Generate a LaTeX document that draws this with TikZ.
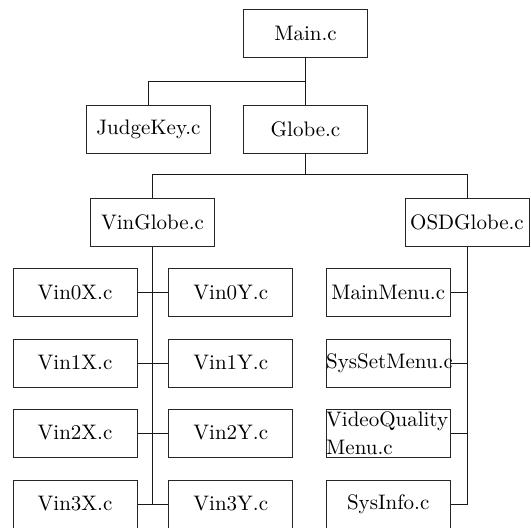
\documentclass[tikz,border=0pt]{standalone}
\usepackage{amsmath}
\usepackage{tikz}
\usetikzlibrary{calc,positioning,arrows}
\tikzstyle{srcfile} = [rectangle,
    draw=black!85, line width=0.5pt,
    text width=62pt,
    minimum height=24pt,
    inner xsep=0pt, inner ysep=0pt,
    text centered,
    font=\fontsize{10.5}{14}\selectfont]
\tikzstyle{link} = [draw=black!90, line width=0.5pt]

\begin{document}
\begin{tikzpicture}[x=0.5pt, y=-0.5pt,
    menufile/.style={srcfile, align=left}
    ]
  \useasboundingbox (0,0) rectangle (531,527);
  \clip (0,0) rectangle (531,527);
  \node [srcfile] (Main) at (305.5,33) {Main.c};
  \node [srcfile, below=23.5pt of Main] (Globe) {Globe.c};
  \node [srcfile, left=16pt of Globe] (JudgeKey) {JudgeKey.c};
  \node [srcfile] (VinGlobe) at (152.5,222) {VinGlobe.c};
  \node [srcfile] (OSDGlobe) at (467,222) {OSDGlobe.c};
  % Vin files
  \foreach \i/\y in {0/292.5,1/363,2/433,3/504} {
    \node [srcfile] (Vin\i X) at (75,\y) {Vin\i X.c};
    \node [srcfile] (Vin\i Y) at (230.8,\y) {Vin\i Y.c};
  }
  % OSD files
  \node [srcfile] (MainMenu) at (388.2,292.5) {MainMenu.c};
  \node [srcfile] (SysSet) at (388.2,363) {SysSetMenu.c};
  \node [menufile] (VideoQ) at (388.2,433) {VideoQuality\\Menu.c};
  \node [srcfile] (SysInfo) at (388.2,504) {SysInfo.c};

  \coordinate (MainSplit) at ($(Main.south)!0.5!(Globe.north)$);
  \coordinate (GlobeSplit) at (Globe.south |- 0,174.7);
  \path [link] (Main.south) -- (Globe.north);
  \path [link] (MainSplit) -| (JudgeKey.north);
  \path [link] (Globe.south) -- (GlobeSplit);
  \path [link] (VinGlobe.north) |- (GlobeSplit) -| (OSDGlobe.north);
  \path [link] (VinGlobe.south) -- (VinGlobe.south |- Vin3X.east);
  \foreach \i in {0,1,2,3}
    \path [link] (Vin\i X.east) -- (Vin\i Y.west);
  \path [link] (OSDGlobe.south) |- (SysInfo.east);
  \foreach \n in {MainMenu,SysSet,VideoQ}
    \path [link] (\n.east) -- (OSDGlobe.south |- \n.east);
\end{tikzpicture}
\end{document}
